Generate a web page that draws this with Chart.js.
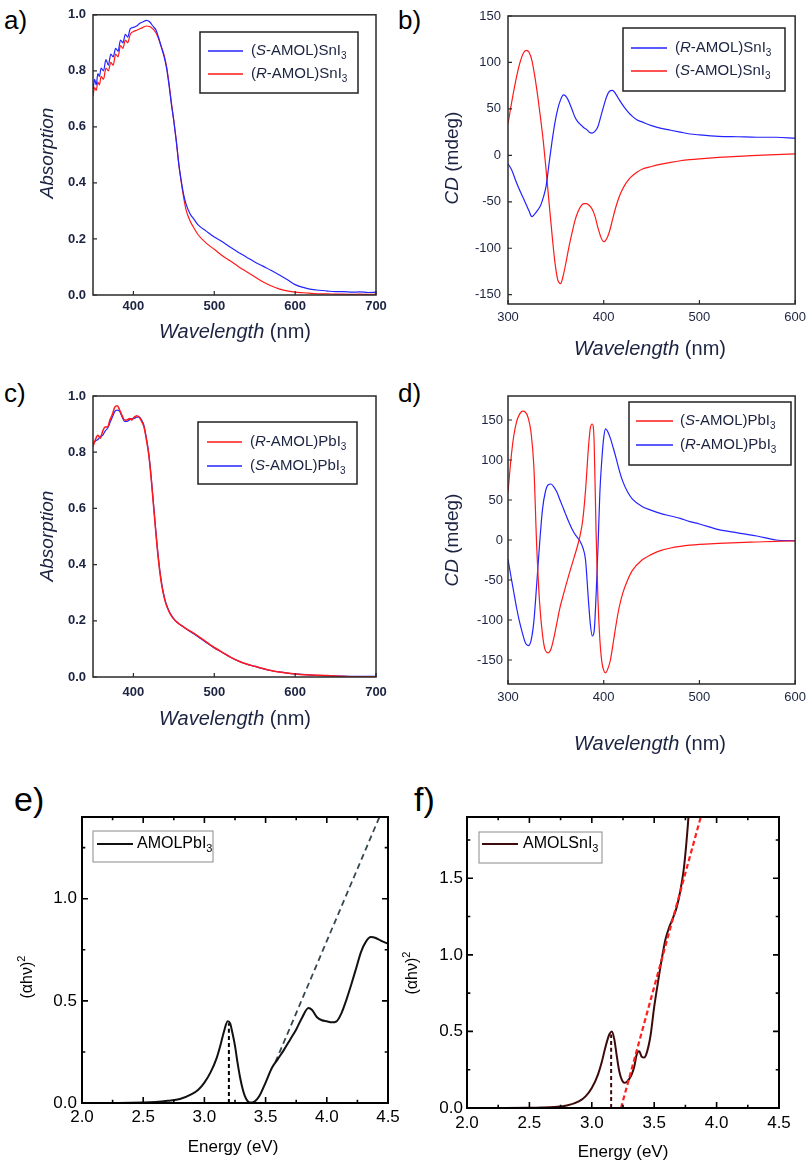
<!DOCTYPE html>
<html>
<head>
<meta charset="utf-8">
<title>Absorption, CD and Tauc plots</title>
<script src="https://cdn.jsdelivr.net/npm/chart.js@4.4.1/dist/chart.umd.min.js"></script>
<style>
  body { margin: 0; width: 812px; height: 1164px; background: #fff; position: relative; overflow: hidden;
         font-family: "Liberation Sans", Arial, Helvetica, sans-serif; }
  canvas, .lbl { position: absolute; }
  .lbl { font-size: 26px; line-height: 1; color: #000; }
  .big { font-size: 34px; }
</style>
</head>
<body>
<div class="lbl" style="left:4px;top:7px">a)</div>
<div class="lbl" style="left:398px;top:7px">b)</div>
<div class="lbl" style="left:4px;top:380px">c)</div>
<div class="lbl" style="left:398px;top:380px">d)</div>
<div class="lbl big" style="left:14px;top:782px">e)</div>
<div class="lbl big" style="left:414px;top:782px">f)</div>
<script>
// ---- a) absorption, SnI3 ----
const wlA = [350,352,354,356,358,360,363,366,369,372,375,378,381,384,387,390,393,396,
  400,404,408,412,416,420,424,428,431,434,438,441,444,447,450,453,456,459,462,465,470,475,480,
  490,500,510,520,530,540,550,560,570,580,590,600,610,620,630,640,650,660,670,680,690,700];
const absSnS = [0.73,0.77,0.75,0.79,0.78,0.81,0.80,0.84,0.82,0.86,0.85,0.88,0.87,0.91,0.90,0.93,0.92,0.95,
  0.955,0.96,0.97,0.975,0.98,0.975,0.96,0.945,0.92,0.89,0.85,0.81,0.75,0.68,0.62,0.55,0.47,0.41,0.36,0.325,0.29,0.27,0.25,
  0.228,0.207,0.19,0.17,0.152,0.135,0.118,0.103,0.088,0.072,0.055,0.037,0.027,0.02,0.017,0.014,0.012,0.012,0.01,0.011,0.009,0.01];
const absSnR = [0.71,0.74,0.73,0.76,0.75,0.78,0.77,0.81,0.80,0.83,0.82,0.86,0.85,0.89,0.88,0.91,0.90,0.93,
  0.94,0.945,0.95,0.955,0.96,0.958,0.95,0.935,0.915,0.89,0.855,0.815,0.755,0.685,0.62,0.55,0.47,0.405,0.35,0.305,0.265,0.238,0.215,
  0.185,0.163,0.14,0.121,0.101,0.083,0.065,0.047,0.033,0.022,0.015,0.01,0.008,0.006,0.004,0.004,0.003,0.003,0.002,0.003,0.002,0.003];

// ---- b) CD, SnI3 ----
const wlB = [300,304,308,312,316,319,322,325,328,331,334,337,340,343,346,349,352,355,358,361,364,367,370,373,376,379,
  382,385,388,391,394,397,400,403,406,409,412,415,418,422,426,430,435,440,450,460,470,480,490,500,520,540,560,580,600];
const cdSnR = [-9,-16,-27,-37,-46,-53,-60,-66,-63,-59,-54,-45,-32,-8,15,35,50,60,65,63,57,49,41,36,33,30,
  28,25,24,26,31,42,53,63,69,70,67,62,57,51,46,42,38,36,32,29,27,25,23,22,20.5,20,19.5,19.5,18.5];
const cdSnS = [34,58,80,98,110,113,111,102,85,64,40,14,-18,-52,-85,-115,-134,-138,-128,-113,-97,-83,-70,-61,-55,-52,
  -52,-54,-58,-66,-78,-88,-93,-90,-82,-70,-58,-48,-40,-32,-26,-22,-18,-15,-12,-9.5,-7.5,-5.8,-4.6,-3.7,-2.2,-1,0,0.8,1.5];

// ---- c) absorption, PbI3 ----
const wlC = [350,353,356,359,362,365,368,371,374,377,380,383,386,389,392,395,398,401,404,407,410,
  413,416,419,422,425,428,431,434,437,440,444,448,452,456,460,467,475,483,490,
  500,510,520,530,540,550,560,570,580,590,600,620,640,660,680,700];
const absPbR = [0.82,0.845,0.86,0.85,0.875,0.89,0.89,0.915,0.935,0.96,0.965,0.95,0.93,0.915,0.915,0.92,0.915,0.925,0.93,0.925,0.91,
  0.89,0.845,0.79,0.705,0.605,0.505,0.415,0.345,0.297,0.262,0.233,0.213,0.2,0.19,0.182,0.169,0.155,0.139,0.125,
  0.105,0.088,0.071,0.057,0.046,0.038,0.03,0.023,0.018,0.014,0.011,0.007,0.005,0.002,0.001,0.001];
const absPbS = [0.83,0.84,0.845,0.855,0.86,0.875,0.885,0.905,0.925,0.945,0.95,0.945,0.925,0.91,0.91,0.915,0.92,0.92,0.925,0.925,0.915,
  0.895,0.85,0.795,0.71,0.61,0.51,0.42,0.35,0.3,0.265,0.235,0.215,0.2,0.19,0.182,0.168,0.153,0.137,0.123,
  0.103,0.087,0.07,0.056,0.046,0.038,0.03,0.023,0.018,0.014,0.011,0.007,0.004,0.003,0.002,0.002];

// ---- d) CD, PbI3 ----
const wlD = [300,303,306,309,312,315,318,321,324,327,330,333,336,339,342,345,348,351,354,357,360,363,366,369,372,375,378,381,384,
  386,388,390,392,394,396,398,400,402,404,407,410,413,416,420,425,430,440,450,460,470,480,490,500,520,540,560,580,600];
const cdPbS = [59,100,130,148,157,161,160,153,135,92,-8,-78,-118,-138,-141,-136,-122,-104,-86,-72,-59,-46,-34,-22,-10,4,24,62,115,
  140,145,122,10,-75,-125,-152,-163,-166,-162,-150,-128,-105,-85,-66,-50,-38,-25,-18,-13,-10,-8,-6.5,-5.5,-4.3,-3.3,-2.5,-1.7,-1];
const cdPbR = [-24,-45,-65,-85,-102,-116,-128,-132,-126,-102,-55,-5,38,60,69,70,66,60,51,42,33,24,16,9,4,-1,-9,-25,-75,
  -105,-120,-114,-70,-10,60,100,128,139,136,127,115,102,88,73,60,51,42,37,33,30,27,23,20,13,9,5,0,-1];

// ---- e) Tauc, AMOLPbI3 ----
const evE = [2.0,2.3,2.5,2.6,2.7,2.8,2.9,2.95,3.0,3.05,3.1,3.13,3.16,3.19,3.21,3.23,3.25,3.27,3.29,3.31,
  3.33,3.35,3.37,3.39,3.42,3.45,3.5,3.55,3.6,3.65,3.7,3.75,3.8,3.85,3.88,3.92,3.96,4.0,4.04,4.08,
  4.12,4.16,4.2,4.24,4.28,4.32,4.36,4.4,4.45,4.5];
const taucPb = [0,0,0.002,0.005,0.011,0.02,0.045,0.065,0.1,0.15,0.22,0.28,0.35,0.40,0.39,0.34,0.28,0.2,0.13,0.075,
  0.035,0.012,0.003,0.003,0.012,0.035,0.1,0.17,0.215,0.26,0.31,0.36,0.42,0.465,0.455,0.42,0.405,0.4,0.395,0.4,
  0.44,0.505,0.58,0.66,0.74,0.79,0.812,0.808,0.792,0.78];
const fitPbX = [3.58, 4.43];
const fitPbY = [0.2, 1.4];
const gapPbX = [3.2, 3.2];
const gapPbY = [0, 0.39];

// ---- f) Tauc, AMOLSnI3 ----
const evF = [2.0,2.3,2.5,2.6,2.7,2.8,2.9,2.95,3.0,3.05,3.08,3.11,3.14,3.16,3.18,3.2,3.22,3.24,3.26,3.28,
  3.3,3.32,3.34,3.36,3.38,3.4,3.42,3.44,3.47,3.5,3.53,3.56,3.59,3.62,3.65,3.68,3.71,3.74,3.77,3.8];
const taucSn = [0,0,0.001,0.003,0.007,0.016,0.045,0.076,0.13,0.22,0.3,0.4,0.48,0.5,0.45,0.34,0.24,0.185,0.165,0.17,
  0.19,0.22,0.27,0.35,0.37,0.335,0.33,0.36,0.47,0.66,0.82,0.97,1.1,1.18,1.24,1.31,1.42,1.58,1.85,2.2];
const fitSnX = [3.234, 3.873];
const fitSnY = [0, 1.9];
const gapSnX = [3.155, 3.155];
const gapSnY = [0, 0.48];

// ---- tick labels ----
const wlTicksAbs = [400, 500, 600, 700];
const wlTicksCD = [300, 400, 500, 600];
const absTicks = [0, 0.2, 0.4, 0.6, 0.8, 1.0];
const cdTicks = [-150, -100, -50, 0, 50, 100, 150];
const evTicks = [2.0, 2.5, 3.0, 3.5, 4.0, 4.5];
const taucPbTicks = [0, 0.5, 1.0];
const taucSnTicks = [0, 0.5, 1.0, 1.5];

const FAM = '"Liberation Sans", Arial, Helvetica, sans-serif';
const NAVY = '#1b2340';
const BLUE = 'rgb(35,35,255)';
const RED = 'rgb(255,25,25)';

function pts(xs, ys) {
  return xs.map((x, i) => ({ x: x, y: ys[i] }));
}

function fontOf(st, size) {
  const small = st.includes('s') || st.includes('p');
  return (st.includes('i') ? 'italic ' : '') + (st.includes('b') ? 'bold ' : '') +
    (small ? Math.round(size * 0.68) : size) + 'px ' + FAM;
}

function drawRich(ctx, parts, x, y, size, color, align) {
  let w = 0;
  for (const [t, st] of parts) { ctx.font = fontOf(st, size); w += ctx.measureText(t).width; }
  let cx = align === 'center' ? x - w / 2 : x;
  ctx.fillStyle = color;
  ctx.textAlign = 'left';
  ctx.textBaseline = 'middle';
  for (const [t, st] of parts) {
    ctx.font = fontOf(st, size);
    const dy = st.includes('s') ? size * 0.32 : st.includes('p') ? -size * 0.38 : 0;
    ctx.fillText(t, cx, y + dy);
    cx += ctx.measureText(t).width;
  }
}

// frame, inward ticks, axis titles and legend box
function decor(cfg) {
  return {
    id: 'decor',
    afterDatasetsDraw(chart) {
      const ctx = chart.ctx, a = chart.chartArea;
      const xs = chart.scales.x, ys = chart.scales.y;
      const ox = cfg.box.x, oy = cfg.box.y;
      ctx.save();
      ctx.strokeStyle = cfg.frameColor;
      ctx.lineWidth = cfg.frameWidth;
      ctx.strokeRect(a.left, a.top, a.right - a.left, a.bottom - a.top);

      const drawTicks = (vals, len) => {
        ctx.beginPath();
        vals.forEach(v => {
          const px = xs.getPixelForValue(v);
          ctx.moveTo(px, a.bottom); ctx.lineTo(px, a.bottom - len);
          if (cfg.mirror) { ctx.moveTo(px, a.top); ctx.lineTo(px, a.top + len); }
        });
        ctx.stroke();
      };
      const drawYTicks = (vals, len) => {
        ctx.beginPath();
        vals.forEach(v => {
          const py = ys.getPixelForValue(v);
          ctx.moveTo(a.left, py); ctx.lineTo(a.left + len, py);
          if (cfg.mirror) { ctx.moveTo(a.right, py); ctx.lineTo(a.right - len, py); }
        });
        ctx.stroke();
      };
      ctx.lineWidth = cfg.tickWidth;
      const xv = xs.ticks.map(t => t.value), yv = ys.ticks.map(t => t.value);
      drawTicks(xv, cfg.tickLen);
      drawYTicks(yv, cfg.tickLen);
      if (cfg.minor) {
        const mid = (vals, max) => {
          const step = vals[1] - vals[0], out = [];
          vals.forEach(v => { if (v + step / 2 < max) out.push(v + step / 2); });
          return out;
        };
        drawTicks(mid(xv, xs.max), cfg.tickLen * 0.55);
        drawYTicks(mid(yv, ys.max), cfg.tickLen * 0.55);
      }

      // axis titles
      const tc = cfg.titleColor;
      drawRich(ctx, cfg.xTitle.parts, cfg.xTitle.x - ox, cfg.xTitle.y - oy, cfg.xTitle.size, tc, 'center');
      ctx.save();
      ctx.translate(cfg.yTitle.x - ox, cfg.yTitle.y - oy);
      ctx.rotate(-Math.PI / 2);
      drawRich(ctx, cfg.yTitle.parts, 0, 0, cfg.yTitle.size, tc, 'center');
      ctx.restore();

      // legend
      const L = cfg.legend;
      ctx.fillStyle = '#fff';
      ctx.fillRect(L.x - ox, L.y - oy, L.w, L.h);
      ctx.strokeStyle = L.border;
      ctx.lineWidth = L.borderWidth;
      ctx.strokeRect(L.x - ox, L.y - oy, L.w, L.h);
      L.items.forEach(it => {
        ctx.strokeStyle = it.color;
        ctx.lineWidth = L.lineWidth;
        ctx.beginPath();
        ctx.moveTo(L.x1 - ox, it.y - oy);
        ctx.lineTo(L.x2 - ox, it.y - oy);
        ctx.stroke();
        drawRich(ctx, it.parts, L.tx - ox, it.y - oy, L.size, L.color, 'left');
      });
      ctx.restore();
    }
  };
}

function panel(box, area, xCfg, yCfg, datasets, deco) {
  const cv = document.createElement('canvas');
  cv.width = box.w; cv.height = box.h;
  cv.style.left = box.x + 'px'; cv.style.top = box.y + 'px';
  document.body.appendChild(cv);
  deco.box = box;
  const axis = (c, isX) => ({
    type: 'linear',
    min: c.min, max: c.max,
    afterBuildTicks: s => { s.ticks = c.ticks.map(v => ({ value: v })); },
    afterFit: s => {
      if (isX) s.height = box.y + box.h - area.b;
      else s.width = area.l - box.x;
    },
    grid: { display: false, drawTicks: false },
    border: { display: false },
    ticks: {
      autoSkip: false, maxRotation: 0,
      padding: c.pad,
      color: c.color,
      font: { family: FAM, size: c.size, weight: c.weight },
      callback: v => c.dec ? v.toFixed(c.dec) : String(v)
    }
  });
  return new Chart(cv, {
    type: 'line',
    data: { datasets: datasets },
    options: {
      responsive: false,
      animation: false,
      devicePixelRatio: 1,
      layout: { padding: { top: area.t - box.y, right: box.x + box.w - area.r, left: 0, bottom: 0 } },
      plugins: { legend: { display: false }, tooltip: { enabled: false } },
      elements: { point: { radius: 0 }, line: { fill: false, cubicInterpolationMode: 'monotone' } },
      scales: { x: axis(xCfg, true), y: axis(yCfg, false) }
    },
    plugins: [decor(deco)]
  });
}

function line(xs, ys, color, width, dash) {
  return { data: pts(xs, ys), borderColor: color, borderWidth: width, borderDash: dash || [] };
}

const snS = [['(', ''], ['S', 'i'], ['-AMOL)SnI', ''], ['3', 's']];
const snR = [['(', ''], ['R', 'i'], ['-AMOL)SnI', ''], ['3', 's']];
const pbS = [['(', ''], ['S', 'i'], ['-AMOL)PbI', ''], ['3', 's']];
const pbR = [['(', ''], ['R', 'i'], ['-AMOL)PbI', ''], ['3', 's']];
const wlTitle = [['Wavelength', 'i'], [' (nm)', '']];
const cdTitle = [['CD', 'i'], [' (mdeg)', '']];
const tauTitle = [['(\u03b1h\u03bd)', ''], ['2', 'p']];

const topDeco = {
  frameColor: '#2a2a2a', frameWidth: 1.5, tickWidth: 1.2, tickLen: 4, mirror: false, minor: false,
  titleColor: NAVY
};
const topLegend = { border: '#222', borderWidth: 1.5, lineWidth: 1.5, size: 15, color: NAVY };

// a)
panel({ x: 0, y: 0, w: 400, h: 345 }, { l: 93, t: 13, r: 376, b: 295 },
  { min: 350, max: 700, ticks: wlTicksAbs, pad: 4, size: 13, weight: 'bold', color: NAVY },
  { min: 0, max: 1, ticks: absTicks, pad: 7, size: 13, weight: 'bold', color: NAVY, dec: 1 },
  [line(wlA, absSnS, BLUE, 1.2), line(wlA, absSnR, RED, 1.2)],
  Object.assign({}, topDeco, {
    xTitle: { parts: wlTitle, x: 235, y: 332, size: 20 },
    yTitle: { parts: [['Absorption', 'i']], x: 48, y: 153, size: 19 },
    legend: Object.assign({}, topLegend, { x: 200, y: 32, w: 158, h: 61, x1: 208, x2: 243, tx: 251,
      items: [{ color: BLUE, y: 51, parts: snS }, { color: RED, y: 74, parts: snR }] })
  }));

// b)
panel({ x: 406, y: 0, w: 406, h: 360 }, { l: 508, t: 16, r: 797, b: 304 },
  { min: 300, max: 600, ticks: wlTicksCD, pad: 6, size: 13, weight: 'normal', color: NAVY },
  { min: -160, max: 150, ticks: cdTicks, pad: 7, size: 13, weight: 'normal', color: NAVY },
  [line(wlB, cdSnR, BLUE, 1.2), line(wlB, cdSnS, RED, 1.2)],
  Object.assign({}, topDeco, {
    xTitle: { parts: wlTitle, x: 650, y: 349, size: 20 },
    yTitle: { parts: cdTitle, x: 453, y: 158, size: 19 },
    legend: Object.assign({}, topLegend, { x: 623, y: 28, w: 162, h: 63, x1: 631, x2: 667, tx: 675,
      items: [{ color: BLUE, y: 48, parts: snR }, { color: RED, y: 71, parts: snS }] })
  }));

// c)
panel({ x: 0, y: 360, w: 400, h: 380 }, { l: 93, t: 396, r: 376, b: 677 },
  { min: 350, max: 700, ticks: wlTicksAbs, pad: 8, size: 13, weight: 'bold', color: NAVY },
  { min: 0, max: 1, ticks: absTicks, pad: 7, size: 13, weight: 'bold', color: NAVY, dec: 1 },
  [line(wlC, absPbR, RED, 1.5), line(wlC, absPbS, BLUE, 1.2)],
  Object.assign({}, topDeco, {
    xTitle: { parts: wlTitle, x: 235, y: 719, size: 20 },
    yTitle: { parts: [['Absorption', 'i']], x: 48, y: 536, size: 19 },
    legend: Object.assign({}, topLegend, { x: 198, y: 422, w: 159, h: 62, x1: 207, x2: 242, tx: 250,
      items: [{ color: RED, y: 442, parts: pbR }, { color: BLUE, y: 466, parts: pbS }] })
  }));

// d)
panel({ x: 406, y: 360, w: 406, h: 400 }, { l: 508, t: 396, r: 797, b: 684 },
  { min: 300, max: 600, ticks: wlTicksCD, pad: 6, size: 13, weight: 'normal', color: NAVY },
  { min: -180, max: 180, ticks: cdTicks, pad: 5, size: 13, weight: 'normal', color: NAVY },
  [line(wlD, cdPbS, RED, 1.2), line(wlD, cdPbR, BLUE, 1.2)],
  Object.assign({}, topDeco, {
    xTitle: { parts: wlTitle, x: 650, y: 744, size: 20 },
    yTitle: { parts: cdTitle, x: 453, y: 540, size: 19 },
    legend: Object.assign({}, topLegend, { x: 629, y: 402, w: 162, h: 63, x1: 636, x2: 673, tx: 680,
      items: [{ color: RED, y: 421, parts: pbS }, { color: BLUE, y: 445, parts: pbR }] })
  }));

const botDeco = {
  frameColor: '#000', frameWidth: 2, tickWidth: 1.6, tickLen: 6, mirror: true, minor: true,
  titleColor: '#000'
};
const botLegend = { border: '#8a8a8a', borderWidth: 1, lineWidth: 2, size: 16, color: '#000' };

// e)
panel({ x: 0, y: 780, w: 406, h: 384 }, { l: 82, t: 817, r: 388, b: 1103 },
  { min: 2.0, max: 4.5, ticks: evTicks, pad: 4, size: 17, weight: 'normal', color: '#000', dec: 1 },
  { min: 0, max: 1.4, ticks: taucPbTicks, pad: 5, size: 17, weight: 'normal', color: '#000', dec: 1 },
  [line(evE, taucPb, '#111', 2),
   line(fitPbX, fitPbY, '#34474f', 1.8, [6, 4]),
   line(gapPbX, gapPbY, '#000', 2, [4, 3])],
  Object.assign({}, botDeco, {
    xTitle: { parts: [['Energy (eV)', '']], x: 233, y: 1147, size: 17 },
    yTitle: { parts: tauTitle, x: 28, y: 977, size: 16 },
    legend: Object.assign({}, botLegend, { x: 93, y: 831, w: 120, h: 31, x1: 97, x2: 133, tx: 137,
      items: [{ color: '#111', y: 844, parts: [['AMOLPbI', ''], ['3', 's']] }] })
  }));

// f)
panel({ x: 398, y: 780, w: 414, h: 384 }, { l: 467, t: 817, r: 779, b: 1108 },
  { min: 2.0, max: 4.5, ticks: evTicks, pad: 5, size: 17, weight: 'normal', color: '#000', dec: 1 },
  { min: 0, max: 1.9, ticks: taucSnTicks, pad: 4, size: 17, weight: 'normal', color: '#000', dec: 1 },
  [line(fitSnX, fitSnY, '#ff1e1e', 2.2, [5, 3]),
   line(evF, taucSn, '#3d0b0b', 2),
   line(gapSnX, gapSnY, '#3d0b0b', 2, [4, 3])],
  Object.assign({}, botDeco, {
    xTitle: { parts: [['Energy (eV)', '']], x: 623, y: 1152, size: 17 },
    yTitle: { parts: tauTitle, x: 413, y: 973, size: 16 },
    legend: Object.assign({}, botLegend, { x: 479, y: 832, w: 123, h: 31, x1: 482, x2: 518, tx: 523,
      items: [{ color: '#3d0b0b', y: 844, parts: [['AMOLSnI', ''], ['3', 's']] }] })
  }));
</script>
</body>
</html>
